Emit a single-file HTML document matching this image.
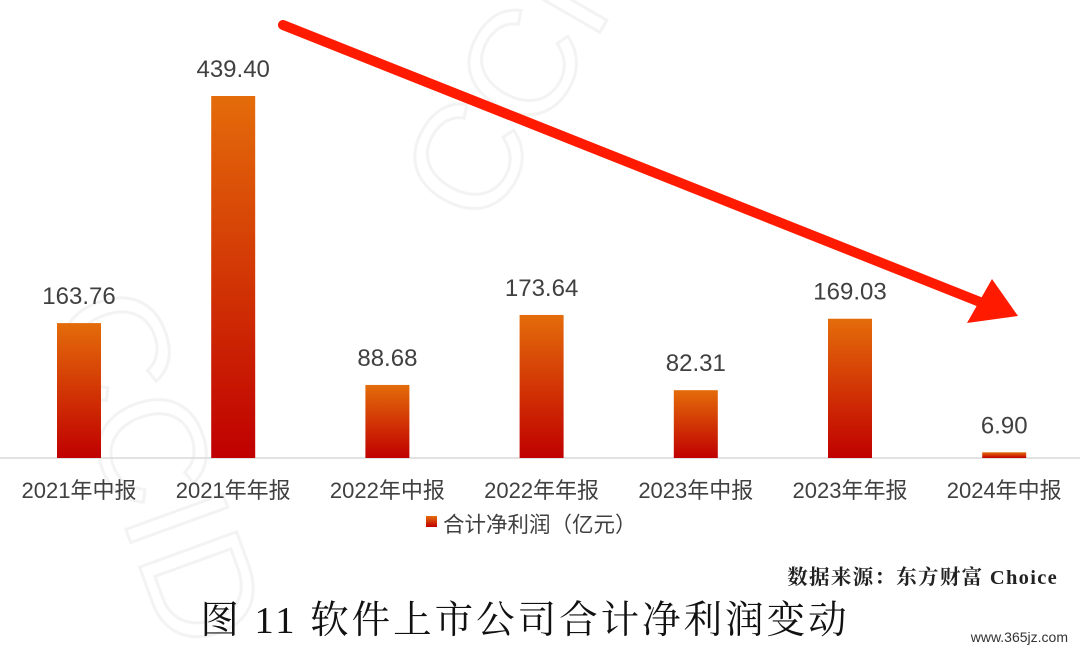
<!DOCTYPE html>
<html><head><meta charset="utf-8">
<style>
body{margin:0;width:1080px;height:653px;background:#fff;overflow:hidden;font-family:"Liberation Sans","Noto Sans CJK SC",sans-serif;}
svg{display:block}
</style></head>
<body>
<svg width="1080" height="653">
<defs>
<linearGradient id="bg" x1="0" y1="0" x2="0" y2="1">
<stop offset="0" stop-color="#e46c0a"/><stop offset="1" stop-color="#c00000"/>
</linearGradient>
</defs>
<g id="wm" opacity="0.05" font-size="150" font-family="Liberation Sans" fill="none" stroke="#000" stroke-width="3">
<text x="0" y="420" transform="rotate(70 100 400)">CCID</text>
<text x="420" y="200" transform="rotate(-60 480 160)">CCID</text>
</g>
<line x1="0" y1="458" x2="1080" y2="458" stroke="#d9d9d9" stroke-width="1.5"/>
<g id="bars"></g>
<g id="legend">
<rect x="426" y="516" width="11" height="11" fill="url(#bg)"/>
<text x="443" y="532" font-size="21.5" fill="#404040">合计净利润（亿元）</text>
</g>
<text x="1058" y="584" text-anchor="end" font-size="20.5" font-weight="bold" letter-spacing="1.3" fill="#222" font-family="Liberation Serif,'Noto Serif CJK SC',serif">数据来源：东方财富 Choice</text>
<text x="525" y="633" text-anchor="middle" font-size="38.5" letter-spacing="3" fill="#111" font-family="Liberation Serif,'Noto Serif CJK SC',serif">图 11  软件上市公司合计净利润变动</text>
<text x="1068" y="642" text-anchor="end" font-size="14" fill="#333">www.365jz.com</text>
<g>
<line x1="283" y1="25" x2="980" y2="302" stroke="#ff1a00" stroke-width="10" stroke-linecap="round"/>
<polygon points="1018,316 967,323 992,279" fill="#ff1a00"/>
</g>
</svg>
<script>
const categories=["2021年中报","2021年年报","2022年中报","2022年年报","2023年中报","2023年年报","2024年中报"];
const values=[163.76,439.40,88.68,173.64,82.31,169.03,6.90];
const labels=["163.76","439.40","88.68","173.64","82.31","169.03","6.90"];
const g=document.getElementById('bars');
const NS="http://www.w3.org/2000/svg";
const base=458, scale=362/439.4;
const x=i=>79+i*154.2;
const y=v=>base-v*scale;
categories.forEach((c,i)=>{
 const r=document.createElementNS(NS,'rect');
 
 
 r.setAttribute('x',x(i)-22);r.setAttribute('width',44);
 r.setAttribute('y',y(values[i]));r.setAttribute('height',base-y(values[i]));
 r.setAttribute('fill','url(#bg)');g.appendChild(r);
 const t=document.createElementNS(NS,'text');
 
 
 t.setAttribute('x',x(i));t.setAttribute('y',y(values[i])-19);
 t.setAttribute('text-anchor','middle');t.setAttribute('font-size','24');t.setAttribute('fill','#404040');
 t.textContent=labels[i];g.appendChild(t);
 const l=document.createElementNS(NS,'text');
 
 
 l.setAttribute('x',x(i));l.setAttribute('y',498);
 l.setAttribute('text-anchor','middle');l.setAttribute('font-size','22');l.setAttribute('fill','#404040');
 l.textContent=c;g.appendChild(l);
});
</script>
</body></html>
